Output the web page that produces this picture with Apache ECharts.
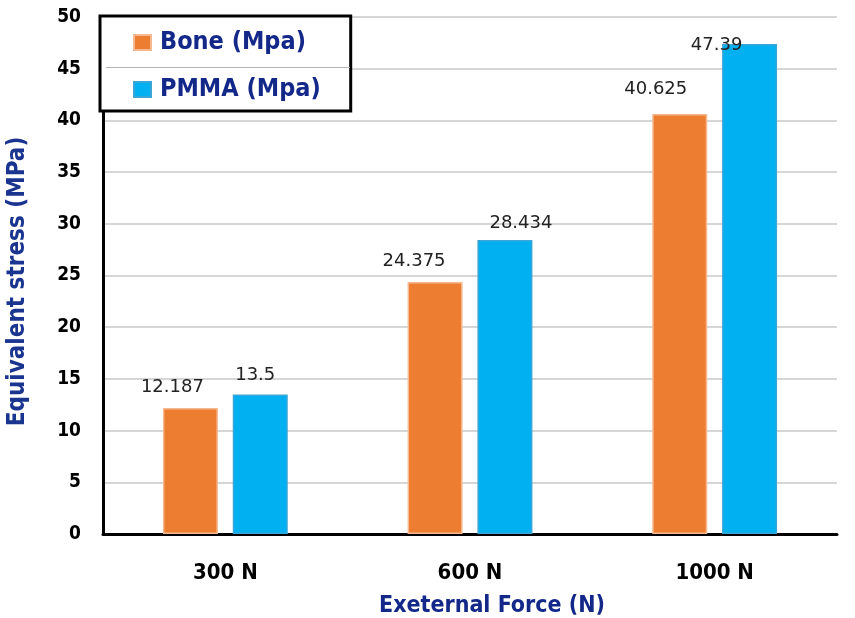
<!DOCTYPE html>
<html>
<head>
<meta charset="utf-8">
<script src="https://cdn.jsdelivr.net/npm/echarts@6/dist/echarts.min.js"></script>
<style>
  html, body { margin: 0; padding: 0; background: #fff; }
  #chart { width: 855px; height: 618px; }
</style>
</head>
<body>
<div id="chart"></div>
<script>
// data
const forces = ['300 N', '600 N', '1000 N'];
const boneStress = [12.187, 24.375, 40.625];
const pmmaStress = [13.5, 28.434, 47.39];
const yTicks = { min: 0, max: 50, step: 5 };

// where the value labels sit relative to the bar top (the source nudges them around)
const boneLabelShift = [[-18, -4], [-21, -4], [-24, -8]];
const pmmaLabelShift = [[-5, -2], [16, 0], [-33, 18]];

const condensed = "'DejaVu Sans Condensed', 'DejaVu Sans', sans-serif";
const navy = '#14288a';

let chart = echarts.init(document.getElementById('chart'));

function withLabels(values, shifts) {
    return values.map((v, i) => ({
        value: v,
        label: { offset: shifts[i] }
    }));
}

let option = {
    animation: false,
    grid: { left: 103, right: 18, top: 17, bottom: 84, outerBoundsMode: 'none', containLabel: false },
    legend: {
        orient: 'vertical',
        left: 100,
        top: 16,
        backgroundColor: '#fff',
        borderColor: '#000',
        borderWidth: 3,
        padding: [14, 30, 9, 33],
        itemGap: 22,
        itemWidth: 17,
        itemHeight: 15,
        icon: 'rect',
        textStyle: {
            color: navy,
            fontFamily: condensed,
            fontWeight: 'bold',
            fontSize: 25,
            padding: [0, 0, 0, 4]
        },
        data: ['Bone (Mpa)', 'PMMA (Mpa)']
    },
    graphic: [{
        type: 'rect',
        z: 1000,
        shape: { x: 106, y: 67, width: 244, height: 1 },
        style: { fill: '#b5b5b5' }
    }],
    xAxis: {
        type: 'category',
        data: forces,
        name: 'Exeternal Force (N)',
        nameLocation: 'middle',
        nameGap: 61,
        nameTextStyle: {
            color: navy,
            fontFamily: condensed,
            fontWeight: 'bold',
            fontSize: 23,
            padding: [0, 0, 0, 44]
        },
        axisLine: { lineStyle: { color: '#000', width: 3 } },
        axisTick: { show: false },
        axisLabel: {
            color: '#000',
            fontFamily: condensed,
            fontWeight: 'bold',
            fontSize: 22,
            margin: 28
        }
    },
    yAxis: {
        type: 'value',
        min: yTicks.min,
        max: yTicks.max,
        interval: yTicks.step,
        name: 'Equivalent stress (MPa)',
        nameLocation: 'middle',
        nameGap: 73,
        nameTextStyle: {
            color: '#1a3590',
            fontFamily: condensed,
            fontWeight: 'bold',
            fontSize: 24,
            padding: [0, 12, 0, 0]
        },
        axisLine: { show: true, lineStyle: { color: '#000', width: 3 } },
        axisTick: { show: false },
        axisLabel: {
            color: '#000',
            fontFamily: condensed,
            fontWeight: 'bold',
            fontSize: 19,
            margin: 22
        },
        splitLine: { lineStyle: { color: '#c9c9c9', width: 1.5 } }
    },
    series: [
        {
            name: 'Bone (Mpa)',
            type: 'bar',
            barWidth: 55,
            barGap: '27%',
            data: withLabels(boneStress, boneLabelShift),
            itemStyle: { color: '#ED7D31', borderColor: '#f6b98f', borderWidth: 1.5 },
            label: {
                show: true,
                position: 'top',
                distance: 8,
                color: '#222',
                fontFamily: "'DejaVu Sans', sans-serif",
                fontSize: 18
            }
        },
        {
            name: 'PMMA (Mpa)',
            type: 'bar',
            barWidth: 55,
            data: withLabels(pmmaStress, pmmaLabelShift),
            itemStyle: { color: '#00B0F0', borderColor: '#3aa6d8', borderWidth: 1.5 },
            label: {
                show: true,
                position: 'top',
                distance: 8,
                color: '#222',
                fontFamily: "'DejaVu Sans', sans-serif",
                fontSize: 18
            }
        }
    ]
};

chart.setOption(option);
</script>
</body>
</html>
